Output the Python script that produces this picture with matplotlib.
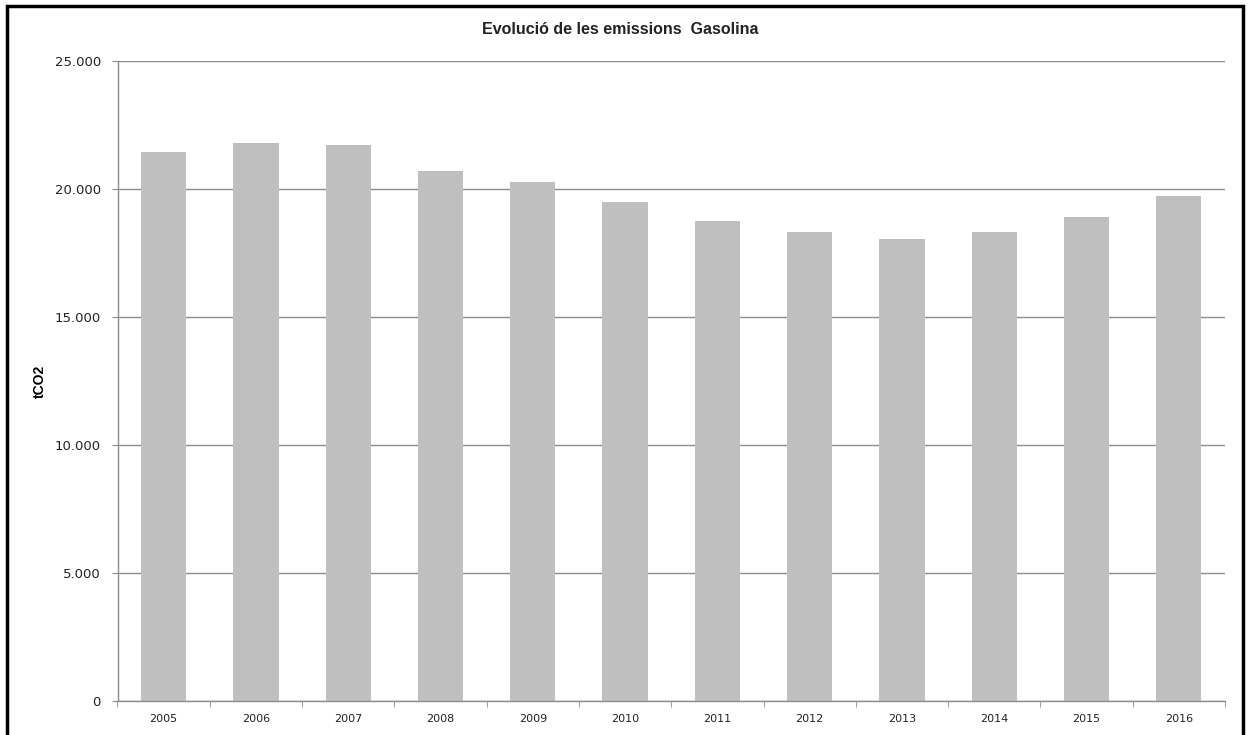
import matplotlib.pyplot as plt
from matplotlib.patches import Rectangle
from matplotlib.ticker import FuncFormatter

years = ['2005', '2006', '2007', '2008', '2009', '2010',
         '2011', '2012', '2013', '2014', '2015', '2016']
emissions = [21450, 21800, 21710, 20710, 20260, 19510,
             18765, 18335, 18060, 18320, 18910, 19715]
y_ticks = [0, 5000, 10000, 15000, 20000, 25000]

W, H = 1252, 735
fig = plt.figure(figsize=(W / 100, H / 100), dpi=100)
ax = fig.add_axes([117.5 / W, 1 - 701 / H, (1225 - 117.5) / W, (701 - 61) / H])

x = list(range(len(years)))
ax.bar(x, emissions, width=0.49, color='#bfbfbf', zorder=2)

ax.set_xlim(-0.5, len(years) - 0.5)
ax.set_ylim(0, 25000)
ax.set_yticks(y_ticks)
ax.yaxis.set_major_formatter(FuncFormatter(lambda v, p: f'{int(v):,}'.replace(',', '.')))
ax.grid(axis='y', color='#8c8c8c', linewidth=1.0, zorder=1)

# category labels centred, tick marks between categories
ax.set_xticks(x)
ax.set_xticklabels(years, fontsize=8, color='#222222', family='DejaVu Sans')
ax.set_xticks([i - 0.5 for i in range(len(years) + 1)], minor=True)
ax.tick_params(axis='x', which='major', length=0, pad=9)
ax.tick_params(axis='x', which='minor', length=4, direction='out', color='#8c8c8c')
ax.tick_params(axis='y', length=4, color='#8c8c8c', labelsize=9.5, labelcolor='#222222', pad=8)

for s in ['top', 'right']:
    ax.spines[s].set_visible(False)
for s in ['left', 'bottom']:
    ax.spines[s].set_color('#8c8c8c')
    ax.spines[s].set_linewidth(1.0)

fig.text(40 / W, 1 - 381 / H, 'tCO2', rotation=90, ha='center', va='center',
         fontsize=10, fontweight='bold', family='Liberation Sans')
fig.text(620 / W, 1 - 29 / H, 'Evolució de les emissions  Gasolina', ha='center', va='center',
         fontsize=11.5, fontweight='bold', family='Liberation Sans', color='#222222')

# outer frame
fig.patches.append(Rectangle((6.5 / W, -0.02), (1243 - 6.5) / W, 1 - 6 / H + 0.02,
                             transform=fig.transFigure, fill=False, edgecolor='black',
                             linewidth=2.5))

fig.savefig('out.png', dpi=100)
